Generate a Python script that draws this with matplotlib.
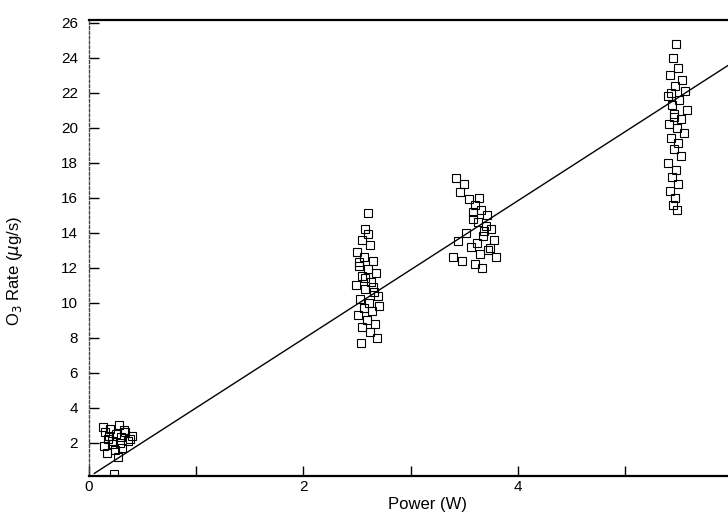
import matplotlib
matplotlib.use('Agg')
import matplotlib.pyplot as plt
import numpy as np

plt.rcParams['font.family'] = ['Liberation Sans', 'DejaVu Sans']

p1 = [0.13, 0.15, 0.18, 0.20, 0.22, 0.25, 0.28, 0.30, 0.33, 0.36, 0.14, 0.19,
      0.24, 0.29, 0.34, 0.38, 0.17, 0.27, 0.31, 0.21, 0.40, 0.23]
r1 = [2.9, 2.6, 2.2, 2.8, 1.9, 2.5, 3.0, 2.3, 2.7, 2.1, 1.8, 2.4,
      1.6, 2.0, 2.6, 2.2, 1.4, 1.2, 1.7, 2.1, 2.4, 0.2]

p2 = [2.60, 2.58, 2.55, 2.62, 2.50, 2.57, 2.65, 2.52, 2.60, 2.68, 2.55, 2.63,
      2.49, 2.58, 2.66, 2.70, 2.53, 2.61, 2.57, 2.64, 2.51, 2.59, 2.67, 2.55,
      2.62, 2.69, 2.52, 2.58, 2.65, 2.54, 2.60, 2.71]
r2 = [15.1, 14.2, 13.6, 13.3, 12.9, 12.6, 12.4, 12.1, 11.9, 11.7, 11.5, 11.2,
      11.0, 10.8, 10.6, 10.4, 10.2, 10.0, 9.7, 9.5, 9.3, 9.0, 8.8, 8.6,
      8.3, 8.0, 12.3, 11.4, 10.9, 7.7, 13.9, 9.8]

p3 = [3.42, 3.50, 3.46, 3.55, 3.60, 3.66, 3.71, 3.58, 3.63, 3.70, 3.75, 3.52,
      3.68, 3.78, 3.62, 3.56, 3.72, 3.65, 3.80, 3.48, 3.60, 3.67, 3.40, 3.74,
      3.58, 3.69, 3.44, 3.64]
r3 = [17.1, 16.8, 16.3, 15.9, 15.6, 15.3, 15.0, 14.8, 14.6, 14.4, 14.2, 14.0,
      13.8, 13.6, 13.4, 13.2, 13.0, 12.8, 12.6, 12.4, 12.2, 12.0, 12.6, 13.1,
      15.2, 14.1, 13.5, 16.0]

p4 = [5.48, 5.45, 5.50, 5.42, 5.53, 5.47, 5.56, 5.40, 5.51, 5.44, 5.58, 5.46,
      5.52, 5.41, 5.49, 5.55, 5.43, 5.50, 5.46, 5.52, 5.40, 5.48, 5.44, 5.50,
      5.42, 5.47, 5.45, 5.49, 5.43, 5.46]
r4 = [24.8, 24.0, 23.4, 23.0, 22.7, 22.4, 22.1, 21.8, 21.6, 21.3, 21.0, 20.8,
      20.5, 20.2, 20.0, 19.7, 19.4, 19.1, 18.8, 18.4, 18.0, 17.6, 17.2, 16.8,
      16.4, 16.0, 15.6, 15.3, 22.0, 20.6]

# linear fit line endpoints
fit_x = [0.05, 6.0]
fit_y = [0.25, 23.7]

fig = plt.figure(figsize=(7.28, 5.12), dpi=100)
ax = fig.add_axes([89/728, 36/512, 643/728, 456/512])

for px, ry in [(p1, r1), (p2, r2), (p3, r3), (p4, r4)]:
    ax.plot(px, ry, 's', mfc='none', mec='black', ms=5.5, mew=0.8)
ax.plot(fit_x, fit_y, '-', color='black', lw=1.0)

ax.set_xlim(0, 6)
ax.set_ylim(0.1, 26.15)
ax.set_xticks([0, 2, 4, 6])
ax.set_xticks([1, 3, 5], minor=True)
ax.set_yticks(range(2, 27, 2))
ax.tick_params(axis='both', direction='in', length=7, width=1, labelsize=11)
ax.tick_params(axis='x', which='minor', direction='in', length=7, width=1)
ax.tick_params(axis='x', pad=3)
ax.tick_params(axis='y', pad=8)

ax.spines['top'].set_linewidth(1.6)
ax.spines['bottom'].set_linewidth(1.6)
ax.spines['left'].set_linewidth(1.0)
ax.spines['left'].set_linestyle((0, (2, 1.5)))
ax.spines['left'].set_color('#444444')
ax.spines['right'].set_linewidth(1.0)
ax.spines['right'].set_linestyle((0, (2, 3)))

ax.set_xlabel('Power (W)', fontsize=12)
ax.xaxis.set_label_coords((427 - 89) / 643, -0.045)
ax.set_ylabel('O$_3$ Rate ($\\mu$g/s)', fontsize=12)
ax.yaxis.set_label_coords(-0.1, 0.45)

fig.savefig('out.png', dpi=100)
